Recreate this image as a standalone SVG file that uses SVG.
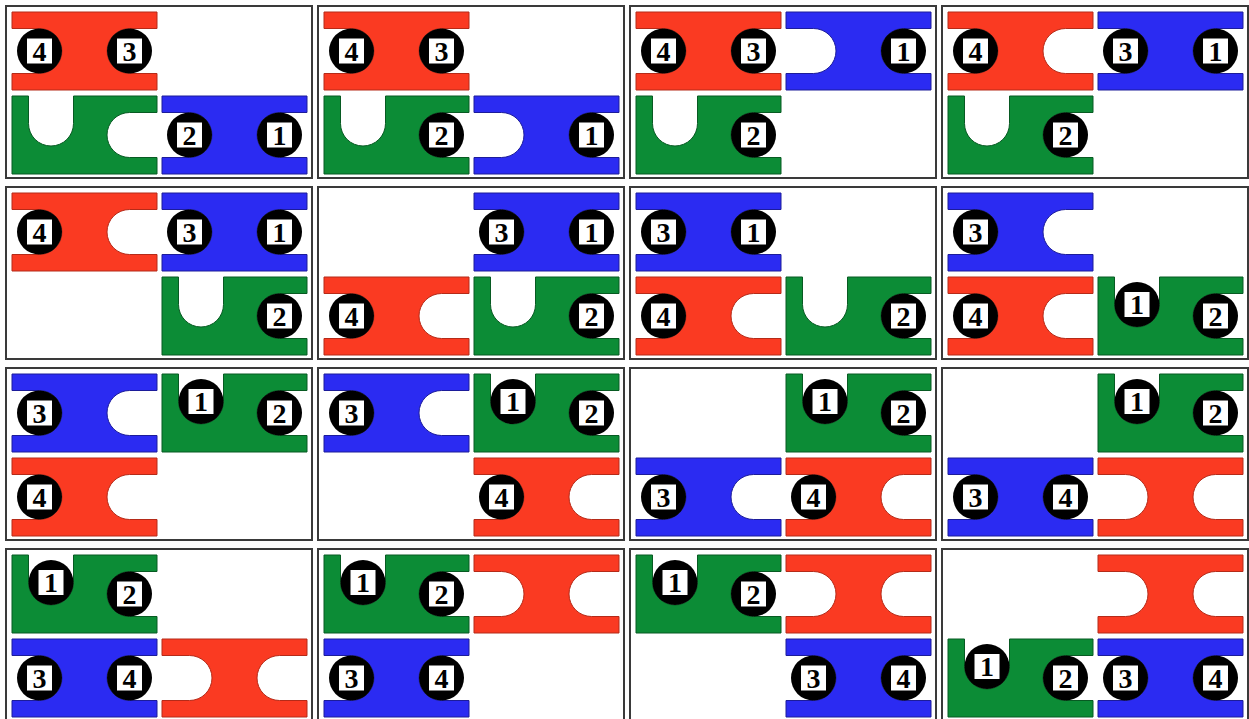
<svg xmlns="http://www.w3.org/2000/svg" xmlns:xlink="http://www.w3.org/1999/xlink" width="1249" height="719" viewBox="0 0 1249 719">
<style>
.p{fill:#fff;stroke:#3a3a3a;stroke-width:2}
.r{fill:#fa3a22;stroke:#b52a18;stroke-width:1}
.b{fill:#2b2bf2;stroke:#1c1c9a;stroke-width:1}
.g{fill:#0c8c36;stroke:#075a22;stroke-width:1}
.n{font-family:"Liberation Serif","Times New Roman",serif;font-size:28px;font-weight:bold;text-anchor:middle;fill:#000}
</style>
<defs>
<path id="hp" d="M0,0H145V16.5H117.5A22.5,22.5 0 0 0 117.5,61.5H145V78H0V61.5H27.5A22.5,22.5 0 0 0 27.5,16.5H0Z"/>
<path id="gp" d="M0,0H16.5V27.5A22.5,22.5 0 0 0 61.5,27.5V0H145V16.5H117.5A22.5,22.5 0 0 0 117.5,61.5H145V78H0Z"/>
<g id="peg"><circle r="22.5" fill="#000"/><rect x="-13" y="-13" width="26" height="26" fill="#fff" stroke="#000" stroke-width="1"/></g>
</defs>

<!-- Row 1 -->
<g id="panel-r1c1" transform="translate(6,6)">
<rect class="p" width="306" height="172"/>
<use href="#hp" class="r" x="6" y="6"/><use href="#gp" class="g" x="6" y="90"/><use href="#hp" class="b" x="156" y="90"/>
<g transform="translate(33.5,45)"><use href="#peg"/><text class="n" y="9.5">4</text></g>
<g transform="translate(123.5,45)"><use href="#peg"/><text class="n" y="9.5">3</text></g>
<g transform="translate(183.5,129)"><use href="#peg"/><text class="n" y="9.5">2</text></g>
<g transform="translate(273.5,129)"><use href="#peg"/><text class="n" y="9.5">1</text></g>
</g>
<g id="panel-r1c2" transform="translate(318,6)">
<rect class="p" width="306" height="172"/>
<use href="#hp" class="r" x="6" y="6"/><use href="#gp" class="g" x="6" y="90"/><use href="#hp" class="b" x="156" y="90"/>
<g transform="translate(33.5,45)"><use href="#peg"/><text class="n" y="9.5">4</text></g>
<g transform="translate(123.5,45)"><use href="#peg"/><text class="n" y="9.5">3</text></g>
<g transform="translate(123.5,129)"><use href="#peg"/><text class="n" y="9.5">2</text></g>
<g transform="translate(273.5,129)"><use href="#peg"/><text class="n" y="9.5">1</text></g>
</g>
<g id="panel-r1c3" transform="translate(630,6)">
<rect class="p" width="306" height="172"/>
<use href="#hp" class="r" x="6" y="6"/><use href="#hp" class="b" x="156" y="6"/><use href="#gp" class="g" x="6" y="90"/>
<g transform="translate(33.5,45)"><use href="#peg"/><text class="n" y="9.5">4</text></g>
<g transform="translate(123.5,45)"><use href="#peg"/><text class="n" y="9.5">3</text></g>
<g transform="translate(273.5,45)"><use href="#peg"/><text class="n" y="9.5">1</text></g>
<g transform="translate(123.5,129)"><use href="#peg"/><text class="n" y="9.5">2</text></g>
</g>
<g id="panel-r1c4" transform="translate(942,6)">
<rect class="p" width="306" height="172"/>
<use href="#hp" class="r" x="6" y="6"/><use href="#hp" class="b" x="156" y="6"/><use href="#gp" class="g" x="6" y="90"/>
<g transform="translate(33.5,45)"><use href="#peg"/><text class="n" y="9.5">4</text></g>
<g transform="translate(183.5,45)"><use href="#peg"/><text class="n" y="9.5">3</text></g>
<g transform="translate(273.5,45)"><use href="#peg"/><text class="n" y="9.5">1</text></g>
<g transform="translate(123.5,129)"><use href="#peg"/><text class="n" y="9.5">2</text></g>
</g>

<!-- Row 2 -->
<g id="panel-r2c1" transform="translate(6,187)">
<rect class="p" width="306" height="172"/>
<use href="#hp" class="r" x="6" y="6"/><use href="#hp" class="b" x="156" y="6"/><use href="#gp" class="g" x="156" y="90"/>
<g transform="translate(33.5,45)"><use href="#peg"/><text class="n" y="9.5">4</text></g>
<g transform="translate(183.5,45)"><use href="#peg"/><text class="n" y="9.5">3</text></g>
<g transform="translate(273.5,45)"><use href="#peg"/><text class="n" y="9.5">1</text></g>
<g transform="translate(273.5,129)"><use href="#peg"/><text class="n" y="9.5">2</text></g>
</g>
<g id="panel-r2c2" transform="translate(318,187)">
<rect class="p" width="306" height="172"/>
<use href="#hp" class="b" x="156" y="6"/><use href="#hp" class="r" x="6" y="90"/><use href="#gp" class="g" x="156" y="90"/>
<g transform="translate(183.5,45)"><use href="#peg"/><text class="n" y="9.5">3</text></g>
<g transform="translate(273.5,45)"><use href="#peg"/><text class="n" y="9.5">1</text></g>
<g transform="translate(33.5,129)"><use href="#peg"/><text class="n" y="9.5">4</text></g>
<g transform="translate(273.5,129)"><use href="#peg"/><text class="n" y="9.5">2</text></g>
</g>
<g id="panel-r2c3" transform="translate(630,187)">
<rect class="p" width="306" height="172"/>
<use href="#hp" class="b" x="6" y="6"/><use href="#hp" class="r" x="6" y="90"/><use href="#gp" class="g" x="156" y="90"/>
<g transform="translate(33.5,45)"><use href="#peg"/><text class="n" y="9.5">3</text></g>
<g transform="translate(123.5,45)"><use href="#peg"/><text class="n" y="9.5">1</text></g>
<g transform="translate(33.5,129)"><use href="#peg"/><text class="n" y="9.5">4</text></g>
<g transform="translate(273.5,129)"><use href="#peg"/><text class="n" y="9.5">2</text></g>
</g>
<g id="panel-r2c4" transform="translate(942,187)">
<rect class="p" width="306" height="172"/>
<use href="#hp" class="b" x="6" y="6"/><use href="#hp" class="r" x="6" y="90"/><use href="#gp" class="g" x="156" y="90"/>
<g transform="translate(33.5,45)"><use href="#peg"/><text class="n" y="9.5">3</text></g>
<g transform="translate(33.5,129)"><use href="#peg"/><text class="n" y="9.5">4</text></g>
<g transform="translate(195,117.5)"><use href="#peg"/><text class="n" y="9.5">1</text></g>
<g transform="translate(273.5,129)"><use href="#peg"/><text class="n" y="9.5">2</text></g>
</g>

<!-- Row 3 -->
<g id="panel-r3c1" transform="translate(6,368)">
<rect class="p" width="306" height="172"/>
<use href="#hp" class="b" x="6" y="6"/><use href="#gp" class="g" x="156" y="6"/><use href="#hp" class="r" x="6" y="90"/>
<g transform="translate(33.5,45)"><use href="#peg"/><text class="n" y="9.5">3</text></g>
<g transform="translate(195,33.5)"><use href="#peg"/><text class="n" y="9.5">1</text></g>
<g transform="translate(273.5,45)"><use href="#peg"/><text class="n" y="9.5">2</text></g>
<g transform="translate(33.5,129)"><use href="#peg"/><text class="n" y="9.5">4</text></g>
</g>
<g id="panel-r3c2" transform="translate(318,368)">
<rect class="p" width="306" height="172"/>
<use href="#hp" class="b" x="6" y="6"/><use href="#gp" class="g" x="156" y="6"/><use href="#hp" class="r" x="156" y="90"/>
<g transform="translate(33.5,45)"><use href="#peg"/><text class="n" y="9.5">3</text></g>
<g transform="translate(195,33.5)"><use href="#peg"/><text class="n" y="9.5">1</text></g>
<g transform="translate(273.5,45)"><use href="#peg"/><text class="n" y="9.5">2</text></g>
<g transform="translate(183.5,129)"><use href="#peg"/><text class="n" y="9.5">4</text></g>
</g>
<g id="panel-r3c3" transform="translate(630,368)">
<rect class="p" width="306" height="172"/>
<use href="#gp" class="g" x="156" y="6"/><use href="#hp" class="b" x="6" y="90"/><use href="#hp" class="r" x="156" y="90"/>
<g transform="translate(195,33.5)"><use href="#peg"/><text class="n" y="9.5">1</text></g>
<g transform="translate(273.5,45)"><use href="#peg"/><text class="n" y="9.5">2</text></g>
<g transform="translate(33.5,129)"><use href="#peg"/><text class="n" y="9.5">3</text></g>
<g transform="translate(183.5,129)"><use href="#peg"/><text class="n" y="9.5">4</text></g>
</g>
<g id="panel-r3c4" transform="translate(942,368)">
<rect class="p" width="306" height="172"/>
<use href="#gp" class="g" x="156" y="6"/><use href="#hp" class="b" x="6" y="90"/><use href="#hp" class="r" x="156" y="90"/>
<g transform="translate(195,33.5)"><use href="#peg"/><text class="n" y="9.5">1</text></g>
<g transform="translate(273.5,45)"><use href="#peg"/><text class="n" y="9.5">2</text></g>
<g transform="translate(33.5,129)"><use href="#peg"/><text class="n" y="9.5">3</text></g>
<g transform="translate(123.5,129)"><use href="#peg"/><text class="n" y="9.5">4</text></g>
</g>

<!-- Row 4 -->
<g id="panel-r4c1" transform="translate(6,549)">
<rect class="p" width="306" height="172"/>
<use href="#gp" class="g" x="6" y="6"/><use href="#hp" class="b" x="6" y="90"/><use href="#hp" class="r" x="156" y="90"/>
<g transform="translate(45,33.5)"><use href="#peg"/><text class="n" y="9.5">1</text></g>
<g transform="translate(123.5,45)"><use href="#peg"/><text class="n" y="9.5">2</text></g>
<g transform="translate(33.5,129)"><use href="#peg"/><text class="n" y="9.5">3</text></g>
<g transform="translate(123.5,129)"><use href="#peg"/><text class="n" y="9.5">4</text></g>
</g>
<g id="panel-r4c2" transform="translate(318,549)">
<rect class="p" width="306" height="172"/>
<use href="#gp" class="g" x="6" y="6"/><use href="#hp" class="r" x="156" y="6"/><use href="#hp" class="b" x="6" y="90"/>
<g transform="translate(45,33.5)"><use href="#peg"/><text class="n" y="9.5">1</text></g>
<g transform="translate(123.5,45)"><use href="#peg"/><text class="n" y="9.5">2</text></g>
<g transform="translate(33.5,129)"><use href="#peg"/><text class="n" y="9.5">3</text></g>
<g transform="translate(123.5,129)"><use href="#peg"/><text class="n" y="9.5">4</text></g>
</g>
<g id="panel-r4c3" transform="translate(630,549)">
<rect class="p" width="306" height="172"/>
<use href="#gp" class="g" x="6" y="6"/><use href="#hp" class="r" x="156" y="6"/><use href="#hp" class="b" x="156" y="90"/>
<g transform="translate(45,33.5)"><use href="#peg"/><text class="n" y="9.5">1</text></g>
<g transform="translate(123.5,45)"><use href="#peg"/><text class="n" y="9.5">2</text></g>
<g transform="translate(183.5,129)"><use href="#peg"/><text class="n" y="9.5">3</text></g>
<g transform="translate(273.5,129)"><use href="#peg"/><text class="n" y="9.5">4</text></g>
</g>
<g id="panel-r4c4" transform="translate(942,549)">
<rect class="p" width="306" height="172"/>
<use href="#hp" class="r" x="156" y="6"/><use href="#gp" class="g" x="6" y="90"/><use href="#hp" class="b" x="156" y="90"/>
<g transform="translate(45,117.5)"><use href="#peg"/><text class="n" y="9.5">1</text></g>
<g transform="translate(123.5,129)"><use href="#peg"/><text class="n" y="9.5">2</text></g>
<g transform="translate(183.5,129)"><use href="#peg"/><text class="n" y="9.5">3</text></g>
<g transform="translate(273.5,129)"><use href="#peg"/><text class="n" y="9.5">4</text></g>
</g>
<g id="connectors"/>
</svg>
